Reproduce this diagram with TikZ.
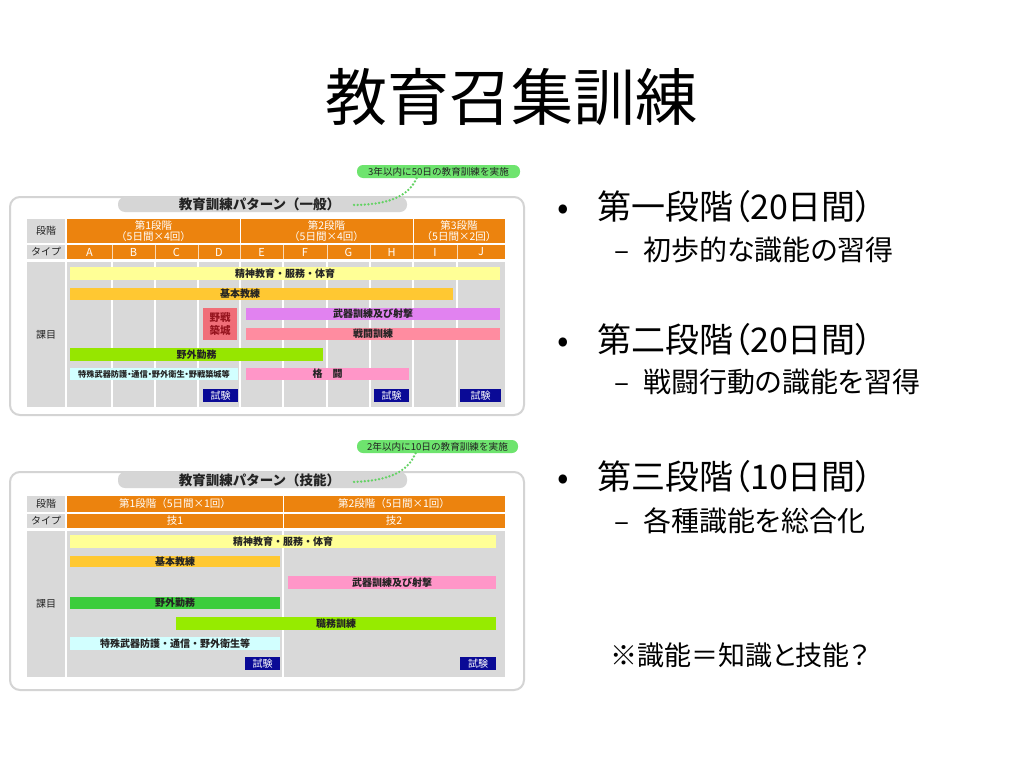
\documentclass[tikz,border=0pt]{standalone}
\usepackage{fontspec}
\setmainfont{Noto Sans CJK JP}
\newfontfamily\pjp[RawFeature={+palt}]{Noto Sans CJK JP}
\definecolor{panelgray}{RGB}{212,212,212}
\definecolor{tabgray}{RGB}{214,214,214}
\definecolor{bodygray}{RGB}{217,217,217}
\definecolor{hdrorange}{RGB}{236,131,14}
\definecolor{cyellow}{RGB}{255,255,150}
\definecolor{corange}{RGB}{255,200,50}
\definecolor{cred}{RGB}{240,110,120}
\definecolor{darkred}{RGB}{150,20,30}
\definecolor{cviolet}{RGB}{225,130,240}
\definecolor{cpink}{RGB}{255,140,160}
\definecolor{cpinkb}{RGB}{255,150,200}
\definecolor{cgreen}{RGB}{150,230,0}
\definecolor{cgreenb}{RGB}{60,205,60}
\definecolor{clime}{RGB}{150,235,0}
\definecolor{ccyan}{RGB}{210,255,255}
\definecolor{cnavy}{RGB}{10,10,150}
\definecolor{callgreen}{RGB}{110,228,110}
\definecolor{dotgreen}{RGB}{100,210,100}
\definecolor{tabletext}{RGB}{35,35,35}
\newcommand\mybox[7]{\node[#6, minimum width={#4-#2}, minimum height={#5-#3}] (#1) at ({(#2+#4)/2},{(#3+#5)/2}) {#7};}
\tikzset{
  panel/.style={draw=panelgray, line width=2pt, rounded corners=10pt, fill=white, inner sep=0pt},
  tab/.style={fill=tabgray, rounded corners=7pt, inner sep=0pt, text=tabletext, font=\bfseries\fontsize{13.5}{13.5}\selectfont},
  callout/.style={fill=callgreen, rounded corners=6pt, inner sep=0pt, text=tabletext, font=\fontsize{9.6}{10}\selectfont},
  dots/.style={draw=dotgreen, line width=2.6pt, dash pattern=on 0pt off 3.6pt, line cap=round},
  lbl/.style={fill=bodygray, inner sep=0pt, text=tabletext, font=\fontsize{10}{11}\selectfont},
  hdr/.style={fill=hdrorange, inner sep=0pt, text=white, align=center, font=\fontsize{10.5}{11.5}\selectfont},
  body/.style={fill=bodygray, inner sep=0pt},
  vline/.style={draw=white, line width=1.2pt},
  hsep/.style={draw=white, line width=1pt},
  tsep/.style={draw=white!70!hdrorange, line width=0.8pt},
  bar/.style={fill=#1, inner sep=0pt, text=tabletext, font=\bfseries\fontsize{10}{11}\selectfont},
  bartxt/.style={inner sep=0pt, text=tabletext, font=\bfseries\fontsize{10}{11}\selectfont},
  exam/.style={fill=cnavy, inner sep=0pt, text=white, font=\fontsize{10}{11}\selectfont},
  lone/.style={anchor=base west, inner sep=0pt, font=\pjp\fontsize{34}{34}\selectfont},
  ltwo/.style={anchor=base west, inner sep=0pt, font=\pjp\fontsize{28}{28}\selectfont},
}
\begin{document}
\begin{tikzpicture}[x=1pt,y=-1pt]
\useasboundingbox[fill=white] (0,0) rectangle (1024,768);
% title
\node[inner sep=0pt, font=\fontsize{62}{62}\selectfont] (title) at (511,97) {教育召集訓練};

% ================= top table =================
\node[panel, minimum width=514, minimum height=218] (panelA) at (267,306) {};
\mybox{tabA}{118}{197}{407}{212}{tab}{\hspace*{-6pt}教育訓練パターン（一般）}
\mybox{callA}{357}{165}{520}{178}{callout}{3年以内に50日の教育訓練を実施}
\coordinate (dotA) at (352,205);
\draw[dots] ([xshift=-22pt]callA.south) .. controls (408,198) and (385,205) .. (dotA);

\mybox{lblA1}{27}{219}{65}{243}{lbl}{段階}
\mybox{lblA2}{27}{245}{65}{259}{lbl}{タイプ}
\mybox{lblA3}{27}{262}{65}{407}{lbl}{課目}

\mybox{stA1}{67}{219}{240}{243}{hdr}{第1段階\\（5日間×4回）}
\mybox{stA2}{240}{219}{413}{243}{hdr}{第2段階\\（5日間×4回）}
\mybox{stA3}{413}{219}{505}{243}{hdr}{第3段階\\（5日間×2回）}
\draw[hsep] (stA1.north east) -- (stA1.south east);
\draw[hsep] (stA2.north east) -- (stA2.south east);

\foreach \l/\a/\b in {A/67/112,B/112/155,C/155/198,D/198/240,E/240/283,F/283/327,G/327/370,H/370/413,I/413/457,J/457/505}{
  \mybox{tA\l}{\a}{245}{\b}{259}{hdr}{\fontsize{11}{11}\selectfont\l}
}
\foreach \l in {A,B,C,D,E,F,G,H,I}{
  \draw[tsep] (tA\l.north east) -- (tA\l.south east);
}

\mybox{bodyA}{67}{262}{505}{407}{body}{}
\foreach \x in {112,155,198,240,283,327,370,413,457}{
  \draw[vline] (\x,262) -- (\x,407);
}

\mybox{spA}{70}{267}{500}{280}{bar=cyellow}{精神教育・服務・体育}
\mybox{kiA}{70}{288}{453}{300}{bar=corange}{}
\node[bartxt] (kiAt) at (240,294) {基本教練};
\mybox{yaA}{203}{308}{237}{340}{bar=cred, align=center, text=darkred, font=\bfseries\fontsize{10.5}{13}\selectfont}{野戦\\築城}
\mybox{buA}{246}{308}{500}{320}{bar=cviolet}{武器訓練及び射撃}
\mybox{seA}{246}{328}{500}{340}{bar=cpink}{戦闘訓練}
\mybox{gaA}{70}{348}{323}{361}{bar=cgreen}{野外勤務}
\mybox{toA}{70}{368}{238}{380}{bar=ccyan, font=\pjp\bfseries\fontsize{8.2}{8.5}\selectfont}{特殊武器防護・通信・野外衛生・野戦築城等}
\mybox{kaA}{246}{368}{409}{380}{bar=cpinkb}{格　闘}
\mybox{exA1}{203}{389}{238}{402}{exam}{試験}
\mybox{exA2}{374}{389}{409}{402}{exam}{試験}
\mybox{exA3}{460}{389}{501}{402}{exam}{試験}

% ================= bottom table =================
\node[panel, minimum width=514, minimum height=218] (panelB) at (267,581) {};
\mybox{tabB}{118}{472}{407}{488}{tab}{\hspace*{-6pt}教育訓練パターン（技能）}
\mybox{callB}{357}{440}{518}{453}{callout}{2年以内に10日の教育訓練を実施}
\coordinate (dotB) at (352,482);
\draw[dots] ([xshift=-22pt]callB.south) .. controls (407,474) and (385,481) .. (dotB);

\mybox{lblB1}{27}{496}{65}{512}{lbl}{段階}
\mybox{lblB2}{27}{514}{65}{528}{lbl}{タイプ}
\mybox{lblB3}{27}{531}{65}{677}{lbl}{課目}

\mybox{stB1}{67}{496}{283}{512}{hdr}{第1段階（5日間×1回）}
\mybox{stB2}{283}{496}{505}{512}{hdr}{第2段階（5日間×1回）}
\draw[hsep] (stB1.north east) -- (stB1.south east);
\mybox{tB1}{67}{514}{283}{528}{hdr}{技1}
\mybox{tB2}{283}{514}{505}{528}{hdr}{技2}
\draw[hsep] (tB1.north east) -- (tB1.south east);

\mybox{bodyB}{67}{531}{505}{677}{body}{}
\draw[vline] (283,531) -- (283,677);

\mybox{spB}{70}{535}{496}{548}{bar=cyellow}{精神教育・服務・体育}
\mybox{kiB}{70}{556}{280}{567}{bar=corange}{基本教練}
\mybox{buB}{288}{576}{496}{589}{bar=cpinkb}{武器訓練及び射撃}
\mybox{gaB}{70}{597}{280}{609}{bar=cgreenb}{野外勤務}
\mybox{shB}{176}{617}{496}{630}{bar=clime}{職務訓練}
\mybox{toB}{70}{637}{280}{650}{bar=ccyan}{特殊武器防護・通信・野外衛生等}
\mybox{exB1}{245}{657}{280}{670}{exam}{試験}
\mybox{exB2}{460}{657}{496}{670}{exam}{試験}

% ================= right text =================
\node[lone] (b1) at (557,219) {•};
\node[lone] (s1) at (597,219) {第一段階（20日間）};
\node[ltwo] (d1) at (614,260) {–};
\node[ltwo] (s1a) at (643,260) {初歩的な識能の習得};
\node[lone] (b2) at (557,352) {•};
\node[lone] (s2) at (597,352) {第二段階（20日間）};
\node[ltwo] (d2) at (614,392) {–};
\node[ltwo] (s2a) at (643,392) {戦闘行動の識能を習得};
\node[lone] (b3) at (557,489) {•};
\node[lone] (s3) at (597,489) {第三段階（10日間）};
\node[ltwo] (d3) at (614,531) {–};
\node[ltwo] (s3a) at (643,531) {各種識能を総合化};
\node[ltwo, font=\pjp\fontsize{27}{27}\selectfont] (note) at (610,665) {※識能＝知識と技能？};
\end{tikzpicture}
\end{document}
